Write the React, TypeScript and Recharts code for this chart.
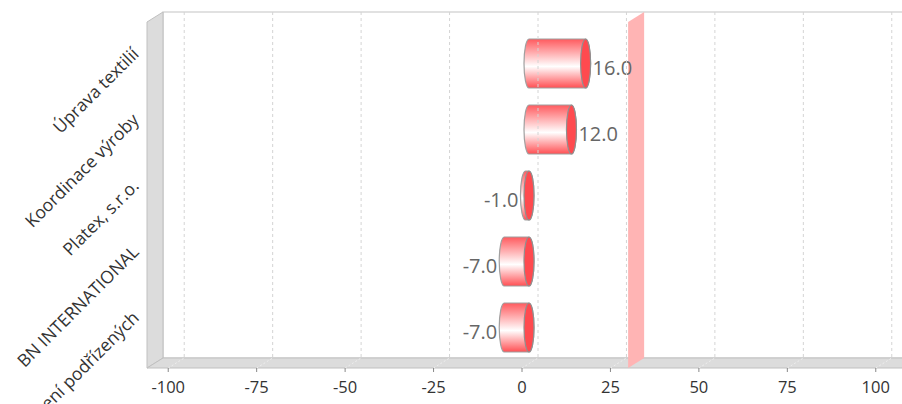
import React from 'react';
import { BarChart, Bar, XAxis, YAxis, ReferenceArea, ReferenceLine } from 'recharts';

// ---- data ----
const categories = ['Úprava textilií', 'Koordinace výroby', 'Platex, s.r.o.', 'BN INTERNATIONAL', 'Řízení podřízených'];
const values = [16, 12, -1, -7, -7];
const xTicks = [-100, -75, -50, -25, 0, 25, 50, 75, 100];
const targetValue = 30;
const axisMin = -106;
const axisMax = 106;

const data = categories.map((name, i) => ({ name, value: values[i] }));

// ---- style constants ----
const DX = 16;
const DY = 10;
const PAD = 8;
const FONT = '"Open Sans", "Noto Sans", sans-serif';

const Walls = (props: any) => {
  const { x, y, width, height } = props;
  const left = x;
  const right = x + width;
  const top = y - PAD;
  const bottom = y + height + PAD;
  return (
    <g>
      <rect x={left + DX} y={top - DY} width={right - left + 40} height={bottom - top} fill="#ffffff" stroke="#c4c4c4" strokeWidth={1} />
      <polygon
        points={`${left},${bottom} ${left},${top} ${left + DX},${top - DY} ${left + DX},${bottom - DY}`}
        fill="#dcdcdc"
        stroke="#c0c0c0"
        strokeWidth={1}
      />
      <polygon
        points={`${left},${bottom} ${left + DX},${bottom - DY} ${right + DX + 40},${bottom - DY} ${right + 40},${bottom}`}
        fill="#dcdcdc"
        stroke="#c0c0c0"
        strokeWidth={1}
      />
    </g>
  );
};

const GridShape = (props: any) => {
  const { x1, y1, y2 } = props;
  const top = Math.min(y1, y2);
  const bottom = Math.max(y1, y2);
  return (
    <g>
      <line x1={x1 + DX} x2={x1 + DX} y1={top - DY} y2={bottom - DY} stroke="#d4d4d4" strokeDasharray="3 3" strokeWidth={1} />
      <line x1={x1} x2={x1 + DX} y1={bottom} y2={bottom - DY} stroke="#eeeeee" strokeDasharray="2 2" strokeWidth={1} />
    </g>
  );
};

const TargetShape = (props: any) => {
  const { x1, y1, y2 } = props;
  const top = Math.min(y1, y2);
  const bottom = Math.max(y1, y2);
  return (
    <polygon
      points={`${x1},${bottom} ${x1},${top} ${x1 + DX},${top - DY} ${x1 + DX},${bottom - DY}`}
      fill="#ffb4b4"
    />
  );
};

const Cylinder = (props: any) => {
  const { x, y, width, height, payload, index } = props;
  const lo = Math.min(x, x + width);
  const hi = Math.max(x, x + width);
  const off = 7;
  const rx = 5;
  const c0 = lo + off;
  const c1 = hi + off;
  const top = y;
  const bot = y + height;
  const ry = height / 2;
  const cy = y + ry;
  const v = payload.value;
  const gid = `cylGrad${index}`;
  const body = `M${c0},${top} L${c1},${top} A${rx},${ry} 0 0 1 ${c1},${bot} L${c0},${bot} A${rx},${ry} 0 0 1 ${c0},${top} Z`;
  return (
    <g>
      <defs>
        <linearGradient id={gid} x1="0" y1="0" x2="0" y2="1">
          <stop offset="0" stopColor="#ff5a5e" />
          <stop offset="0.56" stopColor="#ffffff" />
          <stop offset="1" stopColor="#ff4f53" />
        </linearGradient>
      </defs>
      <path d={body} fill={`url(#${gid})`} stroke="#a0a0a0" strokeWidth={1.2} />
      <ellipse cx={c1} cy={cy} rx={rx} ry={ry} fill="#ff4a4f" stroke="#909090" strokeWidth={1.2} />
      <text
        x={v >= 0 ? c1 + rx + 2 : c0 - rx - 2}
        y={cy + 4}
        textAnchor={v >= 0 ? 'start' : 'end'}
        dominantBaseline="central"
        fontSize={20}
        fill="#666666"
        fontFamily={FONT}
      >
        {v.toFixed(1)}
      </text>
    </g>
  );
};

const XTick = (props: any) => {
  const { x, y, payload } = props;
  return (
    <g>
      <line x1={x} x2={x} y1={y} y2={y + 4} stroke="#888888" strokeWidth={1} />
      <text x={x} y={y + 25} textAnchor="middle" fontSize={16.5} fill="#333333" fontFamily={FONT}>
        {payload.value}
      </text>
    </g>
  );
};

const YTick = (props: any) => {
  const { x, y, payload } = props;
  const ax = x - 7;
  const ay = y - 8;
  return (
    <text
      x={ax}
      y={ay}
      textAnchor="end"
      transform={`rotate(-45 ${ax} ${ay})`}
      fontSize={17.5}
      fill="#333333"
      fontFamily={FONT}
    >
      {payload.value}
    </text>
  );
};

export default function App() {
  return (
    <div style={{ position: 'absolute', left: 0, top: 0, width: 902, height: 404, background: '#ffffff' }}>
      <BarChart
        width={902}
        height={404}
        layout="vertical"
        data={data}
        margin={{ top: 22, right: 5, bottom: 0, left: 0 }}
        barSize={49}
        style={{ fontFamily: FONT }}
      >
        <XAxis
          type="number"
          domain={[axisMin, axisMax]}
          ticks={xTicks}
          allowDataOverflow
          height={36}
          axisLine={false}
          tickLine={false}
          tickSize={0}
          tickMargin={0}
          tick={(p: any) => <XTick {...p} />}
          interval={0}
        />
        <YAxis
          type="category"
          dataKey="name"
          width={147}
          axisLine={false}
          tickLine={false}
          tickSize={0}
          tickMargin={0}
          padding={{ top: PAD, bottom: PAD }}
          tick={(p: any) => <YTick {...p} />}
          interval={0}
        />
        <ReferenceArea x1={axisMin} x2={axisMax} shape={(p: any) => <Walls {...p} />} ifOverflow="visible" zIndex={-200} />
        <ReferenceLine x={targetValue} shape={(p: any) => <TargetShape {...p} />} zIndex={250} />
        <Bar dataKey="value" isAnimationActive={false} shape={(p: any) => <Cylinder {...p} />} />
        {xTicks.map((t) => (
          <ReferenceLine key={t} x={t} shape={(p: any) => <GridShape {...p} />} zIndex={350} />
        ))}
      </BarChart>
    </div>
  );
}
